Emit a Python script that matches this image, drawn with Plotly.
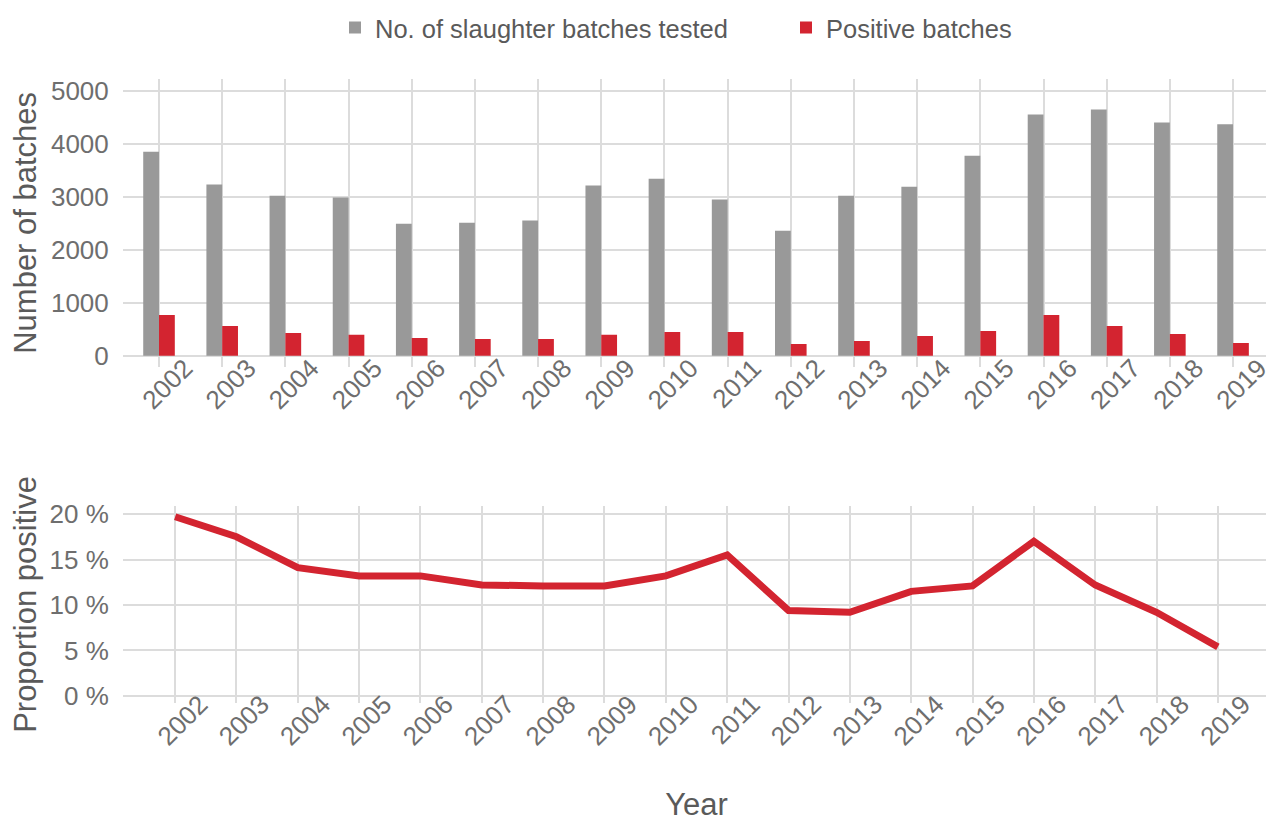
import plotly.graph_objects as go
from plotly.subplots import make_subplots

# ── DATA ─────────────────────────────────────────────────────────────────────
years = list(range(2002, 2020))
batches_tested = [3850, 3230, 3020, 2985, 2490, 2510, 2550, 3210, 3340, 2945,
                  2360, 3020, 3190, 3775, 4550, 4645, 4400, 4365]
positive_batches = [770, 562, 430, 393, 336, 317, 317, 393, 449, 449,
                    222, 279, 374, 468, 770, 562, 411, 241]
proportion_pct = [19.7, 17.5, 14.1, 13.2, 13.2, 12.2, 12.1, 12.1, 13.2, 15.5,
                  9.4, 9.2, 11.5, 12.1, 17.0, 12.2, 9.2, 5.4]
count_ticks = [0, 1000, 2000, 3000, 4000, 5000]
pct_ticks = [0, 5, 10, 15, 20]
pct_labels = ["0 %", "5 %", "10 %", "15 %", "20 %"]

# ── STYLE ────────────────────────────────────────────────────────────────────
GREY = "#999999"
RED = "#D32430"
GRID = "#DCDCDC"
TICK = "#6E6E6E"
TITLE = "#5A5A5A"
FONT = "Liberation Sans, Arial"

fig = make_subplots(rows=2, cols=1, vertical_spacing=0.22)

fig.add_trace(go.Bar(x=years, y=batches_tested, name="No. of slaughter batches tested",
                     marker=dict(color=GREY, line=dict(width=0)),
                     width=0.25, offset=-0.25), row=1, col=1)
fig.add_trace(go.Bar(x=years, y=positive_batches, name="Positive batches",
                     marker=dict(color=RED, line=dict(width=0)),
                     width=0.25, offset=0), row=1, col=1)
fig.add_trace(go.Scatter(x=years, y=proportion_pct, mode="lines", showlegend=False,
                         line=dict(color=RED, width=7)), row=2, col=1)

# the page body adds an 8px offset, so margins are trimmed to compensate
fig.update_layout(
    width=1274, height=820,
    barmode="overlay",
    plot_bgcolor="white", paper_bgcolor="white",
    font=dict(family=FONT, color=TICK, size=26),
    margin=dict(l=115, r=12, t=71, b=125, autoexpand=False),
    showlegend=True,
    legend=dict(orientation="h", xref="container", yref="container",
                x=327 / 1274, xanchor="left", y=1 - 20 / 820, yanchor="middle",
                font=dict(size=25.5, color=TITLE), entrywidth=406, traceorder="normal"),
)

axis_common = dict(showgrid=True, gridcolor=GRID, gridwidth=1.5, zeroline=False,
                   showline=False, automargin=False, tickfont=dict(size=26, color=TICK))

fig.update_xaxes(**axis_common, domain=[0, 1], tickvals=years, tickangle=-45,
                 ticks="", ticklabelstandoff=-20, ticklabeloverflow="allow")
fig.update_xaxes(range=[2001.43, 2019.585], ticklabelshift=26, row=1, col=1)
fig.update_xaxes(range=[2001.15, 2019.85], ticklabelshift=25, row=2, col=1,
                 title=dict(text="Year", font=dict(size=31, color=TITLE), standoff=42))

fig.update_yaxes(**axis_common, ticks="outside", ticklen=8, tickcolor="rgba(0,0,0,0)")
fig.update_yaxes(domain=[0.5389, 1], range=[-208, 5221], tickvals=count_ticks,
                 title=dict(text="Number of batches", font=dict(size=31, color=TITLE)),
                 row=1, col=1)
fig.update_yaxes(domain=[0, 0.3157], range=[-0.77, 20.88], tickvals=pct_ticks,
                 ticktext=pct_labels,
                 title=dict(text="Proportion positive", font=dict(size=31, color=TITLE)),
                 row=2, col=1)

fig.write_html("out.html")
